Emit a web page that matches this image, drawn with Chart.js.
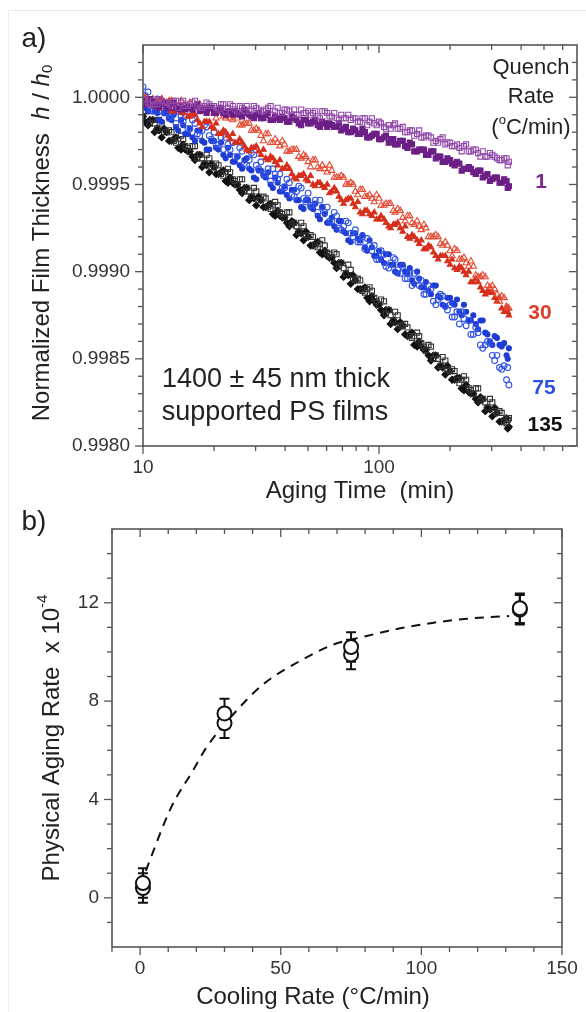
<!DOCTYPE html>
<html>
<head>
<meta charset="utf-8">
<script src="https://cdn.jsdelivr.net/npm/chart.js@4.4.1/dist/chart.umd.min.js"></script>
<style>
html, body { margin: 0; padding: 0; background: #fff; }
#wrap { position: relative; width: 586px; height: 1012px; overflow: hidden; }
#frame { position: absolute; left: 8px; top: 10px; right: 0; bottom: 0; border-left: 1px solid #ececec; border-top: 1px solid #ececec; }
canvas { position: absolute; left: 0; }
#c1 { top: 0; }
#c2 { top: 506px; }
</style>
</head>
<body>
<div id="wrap">
<div id="frame"></div>
<canvas id="c1" width="586" height="506"></canvas>
<canvas id="c2" width="586" height="506"></canvas>
</div>
<script>
// panel a: aging time (min), two interleaved sampling grids
const agingTime = [
  10.0, 10.5, 11.0, 11.5, 12.0, 12.6, 13.2, 13.8, 14.5, 15.1,
  15.8, 16.6, 17.4, 18.2, 19.1, 20.0, 20.9, 21.9, 22.9, 24.0,
  25.1, 26.3, 27.5, 28.8, 30.2, 31.6, 33.1, 34.7, 36.3, 38.0,
  39.8, 41.7, 43.7, 45.7, 47.9, 50.1, 52.5, 55.0, 57.5, 60.3,
  63.1, 66.1, 69.2, 72.4, 75.9, 79.4, 83.2, 87.1, 91.2, 95.5,
  100, 105, 110, 115, 120, 126, 132, 138, 145, 151,
  158, 166, 174, 182, 191, 200, 209, 219, 229, 240,
  251, 263, 275, 288, 302, 316, 331, 347, 355
];
const agingTimeB = [
  10.2, 10.7, 11.2, 11.7, 12.3, 12.9, 13.5, 14.1, 14.8, 15.5,
  16.2, 17.0, 17.8, 18.6, 19.5, 20.4, 21.4, 22.4, 23.4, 24.5,
  25.7, 26.9, 28.2, 29.5, 30.9, 32.4, 33.9, 35.5, 37.2, 38.9,
  40.7, 42.7, 44.7, 46.8, 49.0, 51.3, 53.7, 56.2, 58.9, 61.7,
  64.6, 67.6, 70.8, 74.1, 77.6, 81.3, 85.1, 89.1, 93.3, 97.7,
  102, 107, 112, 117, 123, 129, 135, 141, 148, 155,
  162, 170, 178, 186, 195, 204, 214, 224, 234, 245,
  257, 269, 282, 295, 309, 324, 339, 351
];

// quench rate 1 C/min  (h/h0)
const q1Open = [
  0.99999, 0.99997, 0.99998, 0.99996, 0.99998, 0.99997, 0.99995, 0.99998, 0.99997, 0.99995,
  0.99996, 0.99998, 0.99994, 0.99995, 0.99996, 0.99995, 0.99993, 0.99996, 0.99994, 0.99995,
  0.99992, 0.99994, 0.99995, 0.99993, 0.99994, 0.99992, 0.99993, 0.99995, 0.99992, 0.99991,
  0.99993, 0.99992, 0.99993, 0.99990, 0.99991, 0.99992, 0.99991, 0.99989, 0.99992, 0.99991,
  0.99989, 0.99988, 0.99990, 0.99988, 0.99987, 0.99988, 0.99986, 0.99988, 0.99986, 0.99985,
  0.99986, 0.99983, 0.99984, 0.99984, 0.99982, 0.99983, 0.99980, 0.99981, 0.99979, 0.99977,
  0.99978, 0.99977, 0.99975, 0.99976, 0.99973, 0.99974, 0.99972, 0.99971, 0.99972, 0.99969,
  0.99970, 0.99968, 0.99969, 0.99966, 0.99967, 0.99965, 0.99964, 0.99965, 0.99963
];
const q1OpenB = [
  0.99999, 0.99996, 0.99996, 0.99999, 0.99997, 0.99996, 0.99998, 0.99994, 0.99998, 0.99995,
  0.99997, 0.99994, 0.99994, 0.99997, 0.99995, 0.99994, 0.99996, 0.99992, 0.99996, 0.99993,
  0.99995, 0.99992, 0.99992, 0.99995, 0.99993, 0.99992, 0.99994, 0.99990, 0.99994, 0.99991,
  0.99993, 0.99990, 0.99990, 0.99993, 0.99991, 0.99990, 0.99992, 0.99988, 0.99992, 0.99989,
  0.99991, 0.99987, 0.99988, 0.99990, 0.99988, 0.99986, 0.99988, 0.99984, 0.99988, 0.99984,
  0.99985, 0.99982, 0.99982, 0.99985, 0.99982, 0.99980, 0.99981, 0.99978, 0.99981, 0.99977,
  0.99978, 0.99974, 0.99974, 0.99977, 0.99974, 0.99972, 0.99973, 0.99969, 0.99973, 0.99969,
  0.99970, 0.99966, 0.99966, 0.99968, 0.99966, 0.99964, 0.99965, 0.99961
];
const q1Filled = [
  0.99998, 0.99996, 0.99997, 0.99995, 0.99996, 0.99994, 0.99996, 0.99994, 0.99995, 0.99993,
  0.99994, 0.99995, 0.99992, 0.99993, 0.99994, 0.99991, 0.99993, 0.99991, 0.99992, 0.99990,
  0.99991, 0.99989, 0.99991, 0.99989, 0.99990, 0.99988, 0.99990, 0.99987, 0.99989, 0.99987,
  0.99988, 0.99986, 0.99988, 0.99985, 0.99987, 0.99985, 0.99986, 0.99984, 0.99986, 0.99983,
  0.99984, 0.99983, 0.99981, 0.99983, 0.99980, 0.99981, 0.99979, 0.99980, 0.99977, 0.99979,
  0.99976, 0.99977, 0.99974, 0.99976, 0.99973, 0.99975, 0.99971, 0.99973, 0.99969, 0.99970,
  0.99967, 0.99969, 0.99965, 0.99966, 0.99963, 0.99964, 0.99961, 0.99962, 0.99959, 0.99960,
  0.99957, 0.99958, 0.99954, 0.99956, 0.99953, 0.99954, 0.99951, 0.99952, 0.99949
];
const q1FilledB = [
  0.99996, 0.99999, 0.99996, 0.99994, 0.99997, 0.99994, 0.99997, 0.99993, 0.99994, 0.99995,
  0.99993, 0.99996, 0.99993, 0.99991, 0.99994, 0.99991, 0.99994, 0.99990, 0.99992, 0.99992,
  0.99990, 0.99993, 0.99990, 0.99988, 0.99991, 0.99988, 0.99991, 0.99987, 0.99988, 0.99989,
  0.99986, 0.99989, 0.99987, 0.99984, 0.99987, 0.99985, 0.99987, 0.99983, 0.99985, 0.99985,
  0.99983, 0.99985, 0.99982, 0.99980, 0.99982, 0.99979, 0.99982, 0.99977, 0.99978, 0.99979,
  0.99976, 0.99978, 0.99976, 0.99973, 0.99975, 0.99972, 0.99974, 0.99969, 0.99970, 0.99970,
  0.99967, 0.99969, 0.99966, 0.99963, 0.99965, 0.99962, 0.99963, 0.99958, 0.99959, 0.99959,
  0.99956, 0.99958, 0.99955, 0.99952, 0.99954, 0.99951, 0.99953, 0.99948
];

// quench rate 30 C/min
const q30Open = [
  1.00000, 0.99998, 0.99999, 0.99997, 0.99999, 0.99997, 0.99998, 0.99996, 0.99998, 0.99996,
  0.99997, 0.99995, 0.99996, 0.99993, 0.99994, 0.99991, 0.99992, 0.99989, 0.99990, 0.99987,
  0.99988, 0.99984, 0.99985, 0.99981, 0.99982, 0.99978, 0.99979, 0.99974, 0.99976, 0.99972,
  0.99973, 0.99969, 0.99970, 0.99966, 0.99967, 0.99963, 0.99964, 0.99960, 0.99961, 0.99957,
  0.99958, 0.99954, 0.99955, 0.99950, 0.99951, 0.99946, 0.99947, 0.99943, 0.99944, 0.99940,
  0.99942, 0.99938, 0.99939, 0.99935, 0.99936, 0.99931, 0.99932, 0.99928, 0.99929, 0.99924,
  0.99925, 0.99920, 0.99921, 0.99916, 0.99917, 0.99912, 0.99913, 0.99907, 0.99908, 0.99903,
  0.99903, 0.99897, 0.99898, 0.99892, 0.99892, 0.99887, 0.99886, 0.99880, 0.99879
];
const q30OpenB = [
  null, null, null, null, null, null, null, null, null, null,
  null, null, null, 0.99992, 0.99993, 0.99988, 0.99992, 0.99988, 0.99988, 0.99990,
  0.99984, 0.99985, 0.99985, 0.99981, 0.99981, 0.99975, 0.99979, 0.99974, 0.99974, 0.99975,
  0.99969, 0.99970, 0.99970, 0.99965, 0.99966, 0.99960, 0.99964, 0.99959, 0.99959, 0.99961,
  0.99954, 0.99954, 0.99954, 0.99950, 0.99950, 0.99944, 0.99947, 0.99943, 0.99942, 0.99944,
  0.99938, 0.99939, 0.99939, 0.99934, 0.99935, 0.99929, 0.99932, 0.99927, 0.99926, 0.99927,
  0.99920, 0.99920, 0.99920, 0.99915, 0.99915, 0.99909, 0.99912, 0.99907, 0.99905, 0.99906,
  0.99898, 0.99897, 0.99897, 0.99891, 0.99890, 0.99883, 0.99885, 0.99879
];
const q30Filled = [
  0.99998, 0.99999, 0.99996, 0.99997, 0.99999, 0.99994, 0.99992, 0.99994, 0.99992, 0.99993,
  0.99989, 0.99990, 0.99985, 0.99986, 0.99986, 0.99982, 0.99979, 0.99981, 0.99978, 0.99979,
  0.99974, 0.99974, 0.99970, 0.99971, 0.99972, 0.99967, 0.99965, 0.99966, 0.99963, 0.99964,
  0.99959, 0.99959, 0.99954, 0.99955, 0.99956, 0.99952, 0.99950, 0.99951, 0.99949, 0.99950,
  0.99946, 0.99946, 0.99941, 0.99941, 0.99942, 0.99937, 0.99934, 0.99935, 0.99933, 0.99934,
  0.99930, 0.99930, 0.99926, 0.99927, 0.99928, 0.99923, 0.99920, 0.99921, 0.99918, 0.99918,
  0.99913, 0.99914, 0.99909, 0.99909, 0.99909, 0.99904, 0.99902, 0.99903, 0.99900, 0.99900,
  0.99894, 0.99894, 0.99889, 0.99889, 0.99888, 0.99883, 0.99879, 0.99879, 0.99875
];
const q30FilledB = [
  1.00000, 0.99997, 0.99995, 0.99998, 0.99996, 0.99998, 0.99992, 0.99994, 0.99991, 0.99989,
  0.99991, 0.99987, 0.99983, 0.99986, 0.99983, 0.99985, 0.99979, 0.99980, 0.99976, 0.99974,
  0.99976, 0.99972, 0.99969, 0.99971, 0.99969, 0.99970, 0.99964, 0.99965, 0.99961, 0.99959,
  0.99961, 0.99956, 0.99953, 0.99955, 0.99953, 0.99955, 0.99949, 0.99951, 0.99948, 0.99945,
  0.99948, 0.99943, 0.99939, 0.99942, 0.99939, 0.99940, 0.99933, 0.99935, 0.99932, 0.99930,
  0.99932, 0.99928, 0.99925, 0.99927, 0.99925, 0.99926, 0.99919, 0.99920, 0.99916, 0.99913,
  0.99915, 0.99911, 0.99907, 0.99909, 0.99906, 0.99907, 0.99901, 0.99902, 0.99898, 0.99894,
  0.99896, 0.99891, 0.99887, 0.99888, 0.99885, 0.99885, 0.99877, 0.99877
];

// quench rate 75 C/min
const q75Open = [
  1.00006, 1.00003, 0.99992, 0.99999, 0.99992, 0.99995, 0.99989, 0.99985, 0.99989, 0.99989,
  0.99982, 0.99985, 0.99978, 0.99984, 0.99978, 0.99980, 0.99973, 0.99970, 0.99973, 0.99974,
  0.99966, 0.99969, 0.99961, 0.99968, 0.99961, 0.99963, 0.99956, 0.99952, 0.99956, 0.99956,
  0.99948, 0.99951, 0.99943, 0.99949, 0.99942, 0.99945, 0.99938, 0.99934, 0.99937, 0.99937,
  0.99929, 0.99932, 0.99924, 0.99929, 0.99922, 0.99924, 0.99917, 0.99913, 0.99915, 0.99915,
  0.99907, 0.99910, 0.99902, 0.99908, 0.99901, 0.99903, 0.99896, 0.99892, 0.99895, 0.99895,
  0.99887, 0.99890, 0.99881, 0.99887, 0.99880, 0.99881, 0.99874, 0.99870, 0.99873, 0.99872,
  0.99864, 0.99865, 0.99856, 0.99860, 0.99852, 0.99852, 0.99844, 0.99838, 0.99835
];
const q75OpenB = [
  1.00001, 0.99993, 0.99995, 0.99998, 0.99991, 0.99988, 0.99992, 0.99992, 0.99986, 0.99982,
  0.99987, 0.99979, 0.99981, 0.99983, 0.99976, 0.99973, 0.99977, 0.99977, 0.99970, 0.99966,
  0.99971, 0.99962, 0.99964, 0.99967, 0.99959, 0.99956, 0.99959, 0.99959, 0.99953, 0.99948,
  0.99953, 0.99944, 0.99946, 0.99948, 0.99940, 0.99938, 0.99941, 0.99941, 0.99934, 0.99929,
  0.99934, 0.99925, 0.99926, 0.99928, 0.99920, 0.99917, 0.99920, 0.99919, 0.99912, 0.99907,
  0.99912, 0.99903, 0.99905, 0.99907, 0.99899, 0.99896, 0.99899, 0.99899, 0.99892, 0.99887,
  0.99892, 0.99883, 0.99884, 0.99886, 0.99878, 0.99874, 0.99877, 0.99877, 0.99869, 0.99864,
  0.99868, 0.99858, 0.99858, 0.99859, 0.99849, 0.99845, 0.99846, 0.99845
];
const q75Filled = [
  0.99999, 0.99992, 0.99998, 0.99991, 0.99986, 0.99991, 0.99987, 0.99983, 0.99987, 0.99979,
  0.99982, 0.99975, 0.99981, 0.99974, 0.99970, 0.99975, 0.99970, 0.99967, 0.99971, 0.99963,
  0.99966, 0.99959, 0.99965, 0.99958, 0.99953, 0.99958, 0.99954, 0.99950, 0.99954, 0.99946,
  0.99949, 0.99942, 0.99947, 0.99941, 0.99936, 0.99941, 0.99936, 0.99932, 0.99937, 0.99928,
  0.99931, 0.99924, 0.99929, 0.99922, 0.99917, 0.99922, 0.99918, 0.99914, 0.99918, 0.99909,
  0.99912, 0.99905, 0.99910, 0.99904, 0.99899, 0.99904, 0.99899, 0.99895, 0.99900, 0.99891,
  0.99894, 0.99887, 0.99892, 0.99885, 0.99880, 0.99885, 0.99881, 0.99877, 0.99881, 0.99872,
  0.99875, 0.99867, 0.99872, 0.99864, 0.99858, 0.99862, 0.99857, 0.99852, 0.99856
];
const q75FilledB = [
  0.99994, 0.99997, 0.99992, 0.99987, 0.99991, 0.99988, 0.99990, 0.99981, 0.99984, 0.99979,
  0.99977, 0.99981, 0.99975, 0.99970, 0.99975, 0.99971, 0.99974, 0.99965, 0.99967, 0.99963,
  0.99961, 0.99964, 0.99959, 0.99954, 0.99958, 0.99955, 0.99957, 0.99948, 0.99951, 0.99946,
  0.99944, 0.99947, 0.99941, 0.99937, 0.99941, 0.99937, 0.99939, 0.99930, 0.99933, 0.99928,
  0.99926, 0.99929, 0.99923, 0.99918, 0.99922, 0.99919, 0.99921, 0.99912, 0.99914, 0.99909,
  0.99907, 0.99910, 0.99904, 0.99900, 0.99904, 0.99900, 0.99902, 0.99893, 0.99896, 0.99891,
  0.99889, 0.99892, 0.99886, 0.99881, 0.99885, 0.99882, 0.99884, 0.99875, 0.99877, 0.99872,
  0.99870, 0.99872, 0.99865, 0.99860, 0.99863, 0.99858, 0.99859, 0.99850
];

// quench rate 135 C/min
const q135Open = [
  0.99989, 0.99992, 0.99987, 0.99982, 0.99985, 0.99980, 0.99980, 0.99974, 0.99978, 0.99972,
  0.99969, 0.99972, 0.99967, 0.99962, 0.99965, 0.99960, 0.99961, 0.99955, 0.99959, 0.99953,
  0.99950, 0.99953, 0.99948, 0.99943, 0.99946, 0.99941, 0.99942, 0.99936, 0.99940, 0.99934,
  0.99931, 0.99934, 0.99928, 0.99923, 0.99926, 0.99920, 0.99920, 0.99914, 0.99918, 0.99911,
  0.99908, 0.99910, 0.99905, 0.99899, 0.99901, 0.99895, 0.99895, 0.99888, 0.99891, 0.99885,
  0.99881, 0.99883, 0.99878, 0.99872, 0.99875, 0.99869, 0.99868, 0.99862, 0.99865, 0.99859,
  0.99855, 0.99857, 0.99852, 0.99846, 0.99849, 0.99843, 0.99843, 0.99836, 0.99840, 0.99833,
  0.99830, 0.99833, 0.99827, 0.99822, 0.99825, 0.99819, 0.99819, 0.99813, 0.99816
];
const q135OpenB = [
  0.99992, 0.99985, 0.99985, 0.99987, 0.99980, 0.99981, 0.99975, 0.99976, 0.99976, 0.99971,
  0.99972, 0.99965, 0.99965, 0.99967, 0.99960, 0.99962, 0.99956, 0.99957, 0.99957, 0.99952,
  0.99953, 0.99946, 0.99946, 0.99948, 0.99941, 0.99943, 0.99937, 0.99938, 0.99938, 0.99933,
  0.99934, 0.99927, 0.99926, 0.99928, 0.99921, 0.99921, 0.99915, 0.99916, 0.99915, 0.99910,
  0.99911, 0.99903, 0.99902, 0.99904, 0.99896, 0.99896, 0.99889, 0.99890, 0.99889, 0.99883,
  0.99884, 0.99876, 0.99875, 0.99877, 0.99869, 0.99870, 0.99863, 0.99863, 0.99863, 0.99857,
  0.99858, 0.99850, 0.99850, 0.99851, 0.99844, 0.99844, 0.99838, 0.99838, 0.99838, 0.99832,
  0.99833, 0.99826, 0.99825, 0.99827, 0.99820, 0.99820, 0.99814, 0.99815
];
const q135Filled = [
  0.99989, 0.99984, 0.99987, 0.99982, 0.99977, 0.99980, 0.99975, 0.99977, 0.99970, 0.99970,
  0.99969, 0.99964, 0.99967, 0.99962, 0.99957, 0.99960, 0.99956, 0.99958, 0.99951, 0.99951,
  0.99950, 0.99945, 0.99948, 0.99943, 0.99938, 0.99941, 0.99937, 0.99939, 0.99932, 0.99932,
  0.99931, 0.99926, 0.99928, 0.99923, 0.99918, 0.99920, 0.99915, 0.99917, 0.99910, 0.99909,
  0.99908, 0.99902, 0.99905, 0.99899, 0.99893, 0.99895, 0.99890, 0.99891, 0.99883, 0.99883,
  0.99881, 0.99875, 0.99878, 0.99872, 0.99867, 0.99869, 0.99863, 0.99865, 0.99857, 0.99857,
  0.99855, 0.99849, 0.99852, 0.99846, 0.99841, 0.99843, 0.99838, 0.99839, 0.99832, 0.99831,
  0.99830, 0.99825, 0.99827, 0.99822, 0.99817, 0.99819, 0.99814, 0.99816, 0.99811
];
const q135FilledB = [
  0.99986, 0.99987, 0.99980, 0.99981, 0.99982, 0.99975, 0.99976, 0.99971, 0.99973, 0.99969,
  0.99966, 0.99967, 0.99960, 0.99961, 0.99962, 0.99956, 0.99957, 0.99952, 0.99954, 0.99950,
  0.99947, 0.99948, 0.99941, 0.99942, 0.99943, 0.99937, 0.99938, 0.99933, 0.99935, 0.99931,
  0.99928, 0.99929, 0.99921, 0.99922, 0.99923, 0.99915, 0.99916, 0.99911, 0.99912, 0.99908,
  0.99905, 0.99905, 0.99897, 0.99898, 0.99898, 0.99890, 0.99890, 0.99885, 0.99886, 0.99881,
  0.99878, 0.99878, 0.99870, 0.99871, 0.99871, 0.99864, 0.99864, 0.99858, 0.99860, 0.99855,
  0.99852, 0.99852, 0.99845, 0.99845, 0.99846, 0.99838, 0.99839, 0.99833, 0.99835, 0.99830,
  0.99827, 0.99828, 0.99820, 0.99821, 0.99822, 0.99814, 0.99815, 0.99810
];

const timeTicks = [10, 100];
const timeTickLabels = ['10', '100'];
const timeMinor = [20, 30, 40, 50, 60, 70, 80, 90, 200, 300, 400, 500, 600];
const thickTicks = [0.998, 0.9985, 0.999, 0.9995, 1.0];
const thickTickLabels = ['0.9980', '0.9985', '0.9990', '0.9995', '1.0000'];
const thickMinor = [0.9981, 0.9982, 0.9983, 0.9984, 0.9986, 0.9987, 0.9988, 0.9989,
  0.9991, 0.9992, 0.9993, 0.9994, 0.9996, 0.9997, 0.9998, 0.9999, 1.0001, 1.0002];

// panel b: aging rate (x 1e-4) vs cooling rate
const coolRate = [1, 1, 30, 30, 75, 75, 135, 135];
const agingRate = [0.4, 0.6, 7.1, 7.5, 9.9, 10.2, 11.72, 11.78];
const agingErr = [0.6, 0.6, 0.6, 0.6, 0.6, 0.6, 0.6, 0.6];
const fitRate = [2.0, 11.0, 18.7, 23.5, 34.2, 43.7, 56.8, 68.7, 80.6, 92.5, 104.4, 116.3, 131.2];
const fitAging = [1.1, 3.67, 5.16, 6.1, 7.6, 8.68, 9.63, 10.3, 10.65, 10.96, 11.19, 11.35, 11.46];
const coolTicks = [0, 50, 100, 150];
const coolTickLabels = ['0', '50', '100', '150'];
const coolMinor = [-10, 10, 20, 30, 40, 60, 70, 80, 90, 110, 120, 130, 140];
const rateTicks = [0, 4, 8, 12];
const rateTickLabels = ['0', '4', '8', '12'];
const rateMinor = [-1, 1, 2, 3, 5, 6, 7, 9, 10, 11, 13, 14];

const FONT = '"Liberation Sans", Arial, sans-serif';

function rich(ctx, x, y, parts, rot) {
  ctx.save();
  ctx.translate(x, y);
  if (rot) ctx.rotate(rot);
  let w = 0;
  parts.forEach(p => { ctx.font = p.f; w += ctx.measureText(p.t).width; });
  let cx = -w / 2;
  ctx.textAlign = 'left';
  ctx.textBaseline = 'middle';
  ctx.fillStyle = parts[0].c || '#222';
  parts.forEach(p => {
    ctx.font = p.f;
    ctx.fillText(p.t, cx, p.dy || 0);
    cx += ctx.measureText(p.t).width;
  });
  ctx.restore();
}

function axesBox(chart, s) {
  const { ctx, chartArea: a } = chart;
  const x = chart.scales.x, y = chart.scales.y;
  ctx.save();
  ctx.strokeStyle = '#555';
  ctx.lineWidth = 1.6;
  ctx.strokeRect(a.left, a.top, a.right - a.left, a.bottom - a.top);
  ctx.lineWidth = 1.3;
  const seg = (x1, y1, x2, y2) => { ctx.beginPath(); ctx.moveTo(x1, y1); ctx.lineTo(x2, y2); ctx.stroke(); };
  const xt = (v, len) => { const p = x.getPixelForValue(v); seg(p, a.bottom, p, a.bottom + len); seg(p, a.top, p, a.top + len); };
  const yt = (v, len) => { const p = y.getPixelForValue(v); seg(a.left - len, p, a.left, p); seg(a.right - len, p, a.right, p); };
  s.xMajor.forEach(v => xt(v, 8));
  s.xMinor.forEach(v => xt(v, 5));
  s.yMajor.forEach(v => yt(v, 8));
  s.yMinor.forEach(v => yt(v, 5));
  ctx.fillStyle = '#333';
  ctx.font = '19px ' + FONT;
  ctx.textBaseline = 'middle';
  ctx.textAlign = 'center';
  s.xMajor.forEach((v, i) => ctx.fillText(s.xLabels[i], x.getPixelForValue(v), a.bottom + 22));
  ctx.textAlign = 'right';
  s.yMajor.forEach((v, i) => ctx.fillText(s.yLabels[i], a.left - 13, y.getPixelForValue(v)));
  ctx.restore();
}

function pts(xs, ys) { return xs.map((v, i) => ({ x: v, y: ys[i] })).filter(p => p.y !== null); }

function marks(vals, valsB, style, r, color, filled) {
  return {
    data: pts(agingTime, vals).concat(pts(agingTimeB, valsB)),
    pointStyle: style,
    pointRadius: r,
    borderWidth: 1.1,
    pointBorderColor: color,
    pointBackgroundColor: filled ? color : 'rgba(255,255,255,0)'
  };
}

const panelA = {
  id: 'panelA',
  afterDraw(chart) {
    const ctx = chart.ctx;
    axesBox(chart, { xMajor: timeTicks, xMinor: timeMinor, xLabels: timeTickLabels,
      yMajor: thickTicks, yMinor: thickMinor, yLabels: thickTickLabels });
    const n = (s, w) => (w || '') + ' ' + s + 'px ' + FONT;
    rich(ctx, 34, 39, [{ t: 'a)', f: n(28) }]);
    rich(ctx, 360, 491, [{ t: 'Aging Time  (min)', f: n(24) }]);
    rich(ctx, 42, 243, [
      { t: 'Normalized Film Thickness  ', f: n(24) },
      { t: 'h', f: 'italic 24px ' + FONT },
      { t: ' / ', f: n(24) },
      { t: 'h', f: 'italic 24px ' + FONT },
      { t: '0', f: n(15), dy: 6 }
    ], -Math.PI / 2);
    rich(ctx, 531, 68, [{ t: 'Quench', f: n(22) }]);
    rich(ctx, 531, 97, [{ t: 'Rate', f: n(22) }]);
    rich(ctx, 531, 128, [{ t: '(', f: n(22) }, { t: 'o', f: n(13), dy: -8 }, { t: 'C/min)', f: n(22) }]);
    rich(ctx, 541, 182, [{ t: '1', f: n(21, 'bold'), c: '#7a2a90' }]);
    rich(ctx, 540, 313, [{ t: '30', f: n(21, 'bold'), c: '#d9402b' }]);
    rich(ctx, 544, 388, [{ t: '75', f: n(21, 'bold'), c: '#2d4ee0' }]);
    rich(ctx, 545, 425, [{ t: '135', f: n(21, 'bold'), c: '#111' }]);
    rich(ctx, 276, 380, [{ t: '1400 \u00b1 45 nm thick', f: n(27) }]);
    rich(ctx, 275, 413, [{ t: 'supported PS films', f: n(27) }]);
  }
};

new Chart(document.getElementById('c1'), {
  type: 'scatter',
  data: {
    datasets: [
      marks(q1Open, q1OpenB, 'rect', 3.6, '#9147a8', false),
      marks(q1Filled, q1FilledB, 'rect', 3.6, '#6c1f86', true),
      marks(q30Open, q30OpenB, 'triangle', 3.6, '#e64a33', false),
      marks(q30Filled, q30FilledB, 'triangle', 3.2, '#d62f1c', true),
      marks(q75Open, q75OpenB, 'circle', 2.9, '#3253e6', false),
      marks(q75Filled, q75FilledB, 'circle', 2.5, '#1e3cd4', true),
      marks(q135Open, q135OpenB, 'rect', 3.6, '#333', false),
      marks(q135Filled, q135FilledB, 'rectRot', 3.4, '#111', true)
    ]
  },
  options: {
    responsive: false,
    animation: false,
    layout: { padding: { left: 143, top: 45, right: 9, bottom: 60 } },
    plugins: { legend: { display: false }, tooltip: { enabled: false } },
    scales: {
      x: { type: 'logarithmic', min: 10, max: 690, display: false },
      y: { type: 'linear', min: 0.998, max: 1.0003, display: false }
    }
  },
  plugins: [panelA]
});

const panelB = {
  id: 'panelB',
  beforeDatasetsDraw(chart) {
    const { ctx } = chart;
    const x = chart.scales.x, y = chart.scales.y;
    ctx.save();
    ctx.strokeStyle = '#111';
    ctx.lineWidth = 2;
    coolRate.forEach((c, i) => {
      const px = x.getPixelForValue(c);
      const hi = y.getPixelForValue(agingRate[i] + agingErr[i]);
      const lo = y.getPixelForValue(agingRate[i] - agingErr[i]);
      ctx.beginPath();
      ctx.moveTo(px, hi); ctx.lineTo(px, lo);
      ctx.moveTo(px - 5, hi); ctx.lineTo(px + 5, hi);
      ctx.moveTo(px - 5, lo); ctx.lineTo(px + 5, lo);
      ctx.stroke();
    });
    ctx.restore();
  },
  afterDraw(chart) {
    const ctx = chart.ctx;
    axesBox(chart, { xMajor: coolTicks, xMinor: coolMinor, xLabels: coolTickLabels,
      yMajor: rateTicks, yMinor: rateMinor, yLabels: rateTickLabels });
    const n = s => s + 'px ' + FONT;
    rich(ctx, 34, 16, [{ t: 'b)', f: n(28) }]);
    rich(ctx, 313, 491, [{ t: 'Cooling Rate (\u00b0C/min)', f: n(24) }]);
    rich(ctx, 52, 232, [
      { t: 'Physical Aging Rate  x 10', f: n(24) },
      { t: '-4', f: n(15), dy: -9 }
    ], -Math.PI / 2);
  }
};

new Chart(document.getElementById('c2'), {
  type: 'scatter',
  data: {
    datasets: [
      {
        data: pts(coolRate, agingRate),
        pointStyle: 'circle',
        pointRadius: 7,
        borderWidth: 2,
        pointBorderColor: '#111',
        pointBackgroundColor: '#fff'
      },
      {
        type: 'line',
        data: pts(fitRate, fitAging),
        borderColor: '#111',
        borderWidth: 2,
        borderDash: [9, 7],
        pointRadius: 0,
        fill: false,
        cubicInterpolationMode: 'monotone'
      }
    ]
  },
  options: {
    responsive: false,
    animation: false,
    layout: { padding: { left: 112, top: 23, right: 24, bottom: 65 } },
    plugins: { legend: { display: false }, tooltip: { enabled: false } },
    scales: {
      x: { type: 'linear', min: -10, max: 150, display: false },
      y: { type: 'linear', min: -2, max: 15, display: false }
    }
  },
  plugins: [panelB]
});
</script>
</body>
</html>
